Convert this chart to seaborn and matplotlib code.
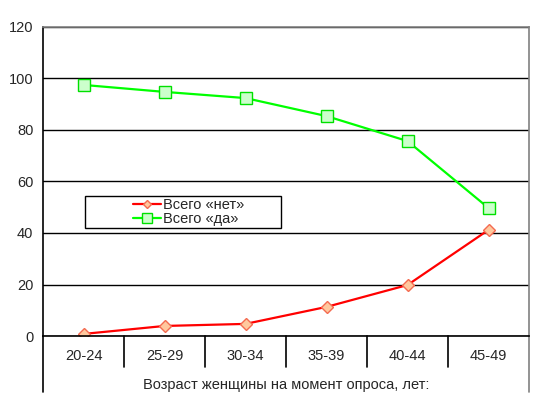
import matplotlib
matplotlib.use("Agg")
import matplotlib.pyplot as plt
import seaborn as sns
import pandas as pd
from matplotlib.lines import Line2D
from matplotlib.patches import Rectangle

# data
age_groups = ['20-24', '25-29', '30-34', '35-39', '40-44', '45-49']
total_no = [0.8, 3.9, 4.7, 11.3, 19.8, 41.2]
total_yes = [97.5, 94.8, 92.4, 85.4, 75.7, 49.7]
series_names = ['Всего «нет»', 'Всего «да»']
x_label = 'Возраст женщины на момент опроса, лет:'

sns.set_style('white')
plt.rcParams['font.family'] = ['Liberation Sans', 'DejaVu Sans']

df = pd.DataFrame({
    'age': age_groups * 2,
    'value': total_no + total_yes,
    'series': [series_names[0]] * len(age_groups) + [series_names[1]] * len(age_groups),
})

fig = plt.figure(figsize=(5.42, 3.97), dpi=100)
W, H = 542, 397
left, right, top, bottom = 43, 529, 27, 336
ax = fig.add_axes([left / W, 1 - bottom / H, (right - left) / W, (bottom - top) / H])

styles = {
    series_names[0]: dict(color='#FF0000', marker='D', mfc='#FFC89E', mec='#F46A50', ms=6),
    series_names[1]: dict(color='#00FF00', marker='s', mfc='#CCFFCC', mec='#00E000', ms=8),
}
for name in series_names:
    sub = df[df['series'] == name]
    st = styles[name]
    sns.lineplot(data=sub, x='age', y='value', ax=ax, color=st['color'], lw=1.6,
                 marker=st['marker'], markerfacecolor=st['mfc'], markeredgecolor=st['mec'],
                 markersize=st['ms'], markeredgewidth=1.0, label=name, legend=False)

ax.set_xlim(-0.5, len(age_groups) - 0.5)
ax.set_ylim(0, 120)
ax.set_yticks(range(0, 121, 20))
ax.yaxis.grid(True, color='black', lw=1)
ax.set_axisbelow(True)
ax.tick_params(axis='y', length=3, width=1, color='black', labelsize=10.5, pad=4, direction='out')
ax.tick_params(axis='x', length=0, labelsize=10.5, pad=9)
ax.set_xlabel(x_label, fontsize=10.5, labelpad=11)
ax.set_ylabel('')
ax.set_yticklabels([str(v) for v in range(0, 121, 20)])

for s in ['left', 'bottom']:
    ax.spines[s].set_color('black')
    ax.spines[s].set_linewidth(1.2)
for s in ['top', 'right']:
    ax.spines[s].set_color('#808080')
    ax.spines[s].set_linewidth(1.2)

# category separators below the axis
box_h = 31 / (bottom - top)
ext_h = 56 / (bottom - top)
trans = ax.get_xaxis_transform()
for i in range(1, len(age_groups)):
    ax.add_line(Line2D([i - 0.5, i - 0.5], [0, -box_h], transform=trans,
                       color='black', lw=1.2, clip_on=False))
ax.add_line(Line2D([-0.5, -0.5], [0, -ext_h], transform=trans, color='black', lw=1.2, clip_on=False))
ax.add_line(Line2D([len(age_groups) - 0.5] * 2, [0, -ext_h], transform=trans,
                   color='#808080', lw=1.2, clip_on=False))

# legend box (frame drawn separately, content centred in it)
lx0, lx1, ly0, ly1 = 85, 281, 196, 228
bx = (lx0 - left) / (right - left)
by = (bottom - ly1) / (bottom - top)
bw = (lx1 - lx0) / (right - left)
bh = (ly1 - ly0) / (bottom - top)
ax.add_patch(Rectangle((bx, by), bw, bh, transform=ax.transAxes, facecolor='white',
                       edgecolor='black', lw=1.0, zorder=4))

leg_handles = [
    Line2D([], [], color=styles[n]['color'], lw=1.6, marker=styles[n]['marker'],
           markerfacecolor=styles[n]['mfc'], markeredgecolor=styles[n]['mec'],
           markersize=styles[n]['ms'] - 1.5, markeredgewidth=1.0)
    for n in series_names
]
leg = ax.legend(leg_handles, series_names, loc='center',
                bbox_to_anchor=(bx + bw / 2 + 0.012, by + bh / 2), frameon=False, fontsize=10.5,
                handlelength=1.9, handletextpad=0.15, borderpad=0, labelspacing=0.05,
                borderaxespad=0)
leg.set_zorder(5)

fig.savefig('out.png', dpi=100)
